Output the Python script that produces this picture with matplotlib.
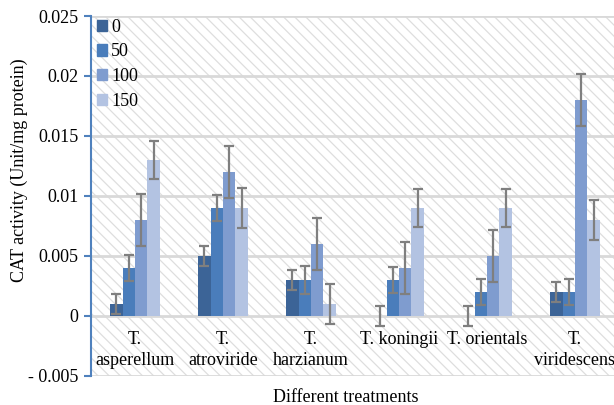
import matplotlib
matplotlib.use("Agg")
import matplotlib.pyplot as plt
import matplotlib.patches as mpatches
import numpy as np

# The data
categories = ["T.\nasperellum", "T.\natroviride", "T.\nharzianum",
              "T. koningii", "T. orientals", "T.\nviridescens"]
series_names = ["0", "50", "100", "150"]
vals_0 = [0.001, 0.005, 0.003, 0.0, 0.0, 0.002]
vals_50 = [0.004, 0.009, 0.003, 0.003, 0.002, 0.002]
vals_100 = [0.008, 0.012, 0.006, 0.004, 0.005, 0.018]
vals_150 = [0.013, 0.009, 0.001, 0.009, 0.009, 0.008]
err_0 = [0.0008, 0.0008, 0.0008, 0.0008, 0.0008, 0.0008]
err_50 = [0.0011, 0.0011, 0.0012, 0.0011, 0.0011, 0.0011]
err_100 = [0.0022, 0.0022, 0.0022, 0.0022, 0.0022, 0.0022]
err_150 = [0.0016, 0.0017, 0.0017, 0.0016, 0.0016, 0.0017]
yticks = [-0.005, 0, 0.005, 0.01, 0.015, 0.02, 0.025]
ytick_labels = ["- 0.005", "0", "0.005", "0.01", "0.015", "0.02", "0.025"]

colors = ["#3c6497", "#4a7dbb", "#7f9ccf", "#b3c3e2"]
axis_blue = "#4f81bd"
grid_gray = "#d9d9d9"

plt.rcParams['font.family'] = ['Liberation Serif', 'DejaVu Serif']
plt.rcParams['hatch.linewidth'] = 0.9

fig = plt.figure(figsize=(6.14, 4.05), dpi=100)
ax = fig.add_axes([91 / 614, 1 - 376 / 405, 528 / 614, 360 / 405])
ax.set_xlim(-0.5, len(categories) - 0.5)
ax.set_ylim(-0.005, 0.025)

# Hatched plot area
bg = mpatches.Rectangle((0, 0), 1, 1, transform=ax.transAxes,
                        facecolor="white", edgecolor="#dedede",
                        hatch="\\\\\\", linewidth=0, zorder=0)
ax.add_patch(bg)
ax.set_facecolor("white")

for t in yticks:
    ax.axhline(t, color=grid_gray, linewidth=2, zorder=1)

# The bars
x = np.arange(len(categories))
width = 0.142
all_vals = [vals_0, vals_50, vals_100, vals_150]
all_errs = [err_0, err_50, err_100, err_150]
handles = []
for i, (v, e, c, name) in enumerate(zip(all_vals, all_errs, colors,
                                        series_names)):
    pos = x + (i - 1.5) * width
    ax.bar(pos, v, width=width, color=c, zorder=2)
    ax.errorbar(pos, v, yerr=e, fmt="none", ecolor="#7f7f7f",
                elinewidth=1.6, capsize=3.8, capthick=1.6, zorder=3)
    handles.append(mpatches.Patch(color=c, label=name))

# Axes styling
for s in ["top", "right", "bottom"]:
    ax.spines[s].set_visible(False)
ax.spines["left"].set_color(axis_blue)
ax.spines["left"].set_linewidth(1.5)
ax.spines["left"].set_zorder(4)
ax.set_yticks(yticks)
ax.set_yticklabels(ytick_labels)
ax.tick_params(axis="y", colors=axis_blue, labelcolor="black",
               length=5, width=1.5, labelsize=13, pad=4)

ax.spines["bottom"].set_position(("data", 0))
ax.set_xticks(x)
ax.set_xticklabels(categories, linespacing=1.25)
ax.tick_params(axis="x", length=0, labelsize=13, pad=11)

ax.set_ylabel("CAT activity (Unit/mg protein)", fontsize=13)
ax.yaxis.set_label_coords(-0.12, 0.572)
fig.text(346 / 614, 1 - 397 / 405, "Different treatments",
         ha="center", va="center", fontsize=13)

leg = ax.legend(handles=handles, loc="upper left", frameon=False,
                fontsize=13, handlelength=0.6, handleheight=0.6,
                handletextpad=0.2, labelspacing=0.42,
                borderaxespad=0.0, bbox_to_anchor=(-0.003, 1.012))

fig.savefig("out.png", dpi=100)
